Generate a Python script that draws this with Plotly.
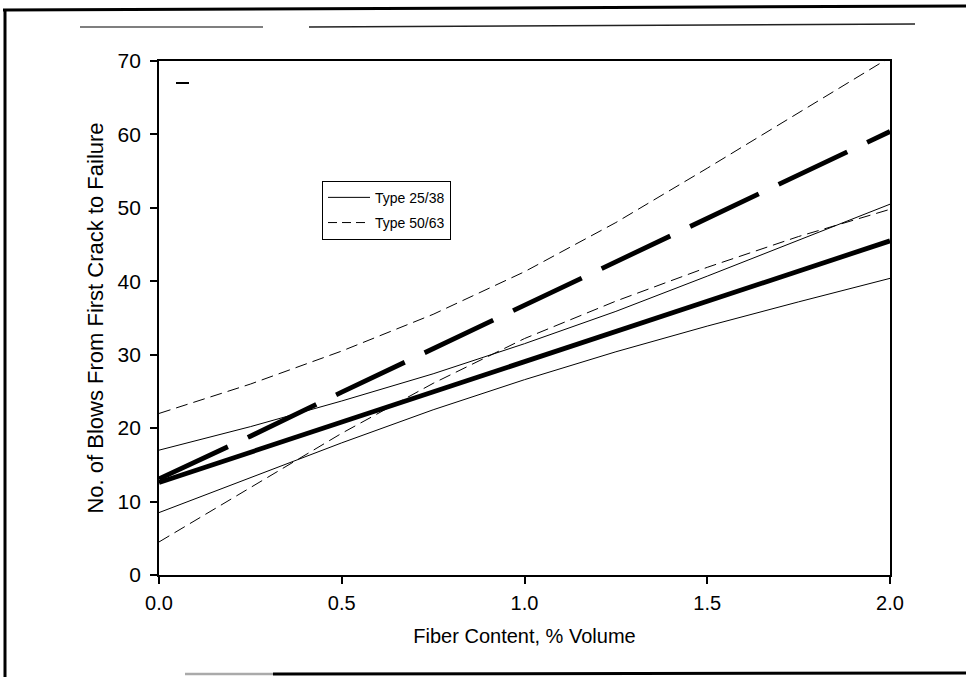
import plotly.graph_objects as go

# Fiber content (% volume) at which the curves were read
fiber = [0.0, 0.25, 0.5, 0.75, 1.0, 1.25, 1.5, 1.75, 2.0]

# Type 25/38 (solid): regression line and its upper / lower bands
t25_fit = [12.6, 16.7, 20.8, 24.9, 29.0, 33.2, 37.3, 41.4, 45.5]
t25_upper = [17.0, 20.2, 23.7, 27.4, 31.5, 35.9, 40.7, 45.6, 50.5]
t25_lower = [8.5, 13.2, 18.0, 22.5, 26.6, 30.4, 33.9, 37.2, 40.4]

# Type 50/63 (dashed): regression line and its upper / lower bands
t50_fit = [13.1, 18.9, 24.9, 30.8, 36.7, 42.7, 48.6, 54.5, 60.4]
t50_upper = [22.0, 26.0, 30.5, 35.5, 41.3, 48.0, 55.4, 62.9, 70.5]
t50_lower = [4.5, 11.9, 19.3, 26.1, 32.2, 37.3, 41.9, 46.1, 49.8]

x_ticks = [0.0, 0.5, 1.0, 1.5, 2.0]
x_ticktext = ["0.0", "0.5", "1.0", "1.5", "2.0"]
y_ticks = [0, 10, 20, 30, 40, 50, 60, 70]

legend_names = ["Type 25/38", "Type 50/63"]

FONT = "Liberation Sans, Arial, sans-serif"
THIN_DASH = "12px,6px"
THICK_DASH = "76px,22px"

fig = go.Figure()

def add(y, width, dash):
    fig.add_trace(go.Scatter(x=fiber, y=y, mode="lines", showlegend=False,
                             line=dict(color="black", width=width, dash=dash),
                             hoverinfo="skip"))

add(t25_upper, 1, "solid")
add(t25_lower, 1, "solid")
add(t50_upper, 1, THIN_DASH)
add(t50_lower, 1, THIN_DASH)
add(t25_fit, 4.8, "solid")
add(t50_fit, 4.8, THICK_DASH)

# legend entries
fig.add_trace(go.Scatter(x=[None], y=[None], mode="lines", name=legend_names[0],
                         legendgroup="a",
                         line=dict(color="black", width=1, dash="solid")))
fig.add_trace(go.Scatter(x=[None], y=[None], mode="lines", name=legend_names[1],
                         legendgroup="b",
                         line=dict(color="black", width=1, dash="9px,5px")))

def px(xp):
    return (xp - 159) / 731.0

def py(yp):
    return (575 - yp) / 514.0

shapes = []
def seg(x0, y0, x1, y1, w, c="black"):
    shapes.append(dict(type="line", xref="paper", yref="paper",
                       x0=px(x0), y0=py(y0), x1=px(x1), y1=py(y1),
                       line=dict(color=c, width=w)))

# scanned page frame
seg(3, 10, 966, 6, 3)
seg(5, 9, 5, 677, 3)
seg(80, 27, 263, 27, 1.5, "#555555")
seg(309, 27, 915, 24, 1.5, "#222222")
seg(185, 674, 273, 674, 2.5, "#aaaaaa")
seg(273, 674, 966, 673, 3)
seg(176, 83, 189, 83, 2)

fig.update_layout(
    width=966, height=677,
    margin=dict(l=159, r=76, t=61, b=102),
    paper_bgcolor="white", plot_bgcolor="white",
    font=dict(family=FONT, color="black", size=20),
    shapes=shapes,
    legend=dict(x=0.223, y=0.767, xanchor="left", yanchor="top",
                bgcolor="white", bordercolor="black", borderwidth=1,
                itemwidth=42, traceorder="grouped", tracegroupgap=4,
                font=dict(size=14, family=FONT)),
    xaxis=dict(range=[0, 2], tickvals=x_ticks, ticktext=x_ticktext,
               ticks="outside", ticklen=7, tickwidth=1.5, tickcolor="black",
               showline=True, linecolor="black", linewidth=1.8, mirror=True,
               showgrid=False, zeroline=False, ticklabelstandoff=2,
               title=dict(text="Fiber Content, % Volume", font=dict(size=20), standoff=16),
               tickfont=dict(size=20)),
    yaxis=dict(range=[0, 70], tickvals=y_ticks,
               ticks="outside", ticklen=7, tickwidth=1.5, tickcolor="black",
               showline=True, linecolor="black", linewidth=1.8, mirror=True,
               showgrid=False, zeroline=False, ticklabelstandoff=5,
               title=dict(text="No. of Blows From First Crack to Failure", font=dict(size=22), standoff=8),
               tickfont=dict(size=21)),
)

fig.write_html("out.html")
